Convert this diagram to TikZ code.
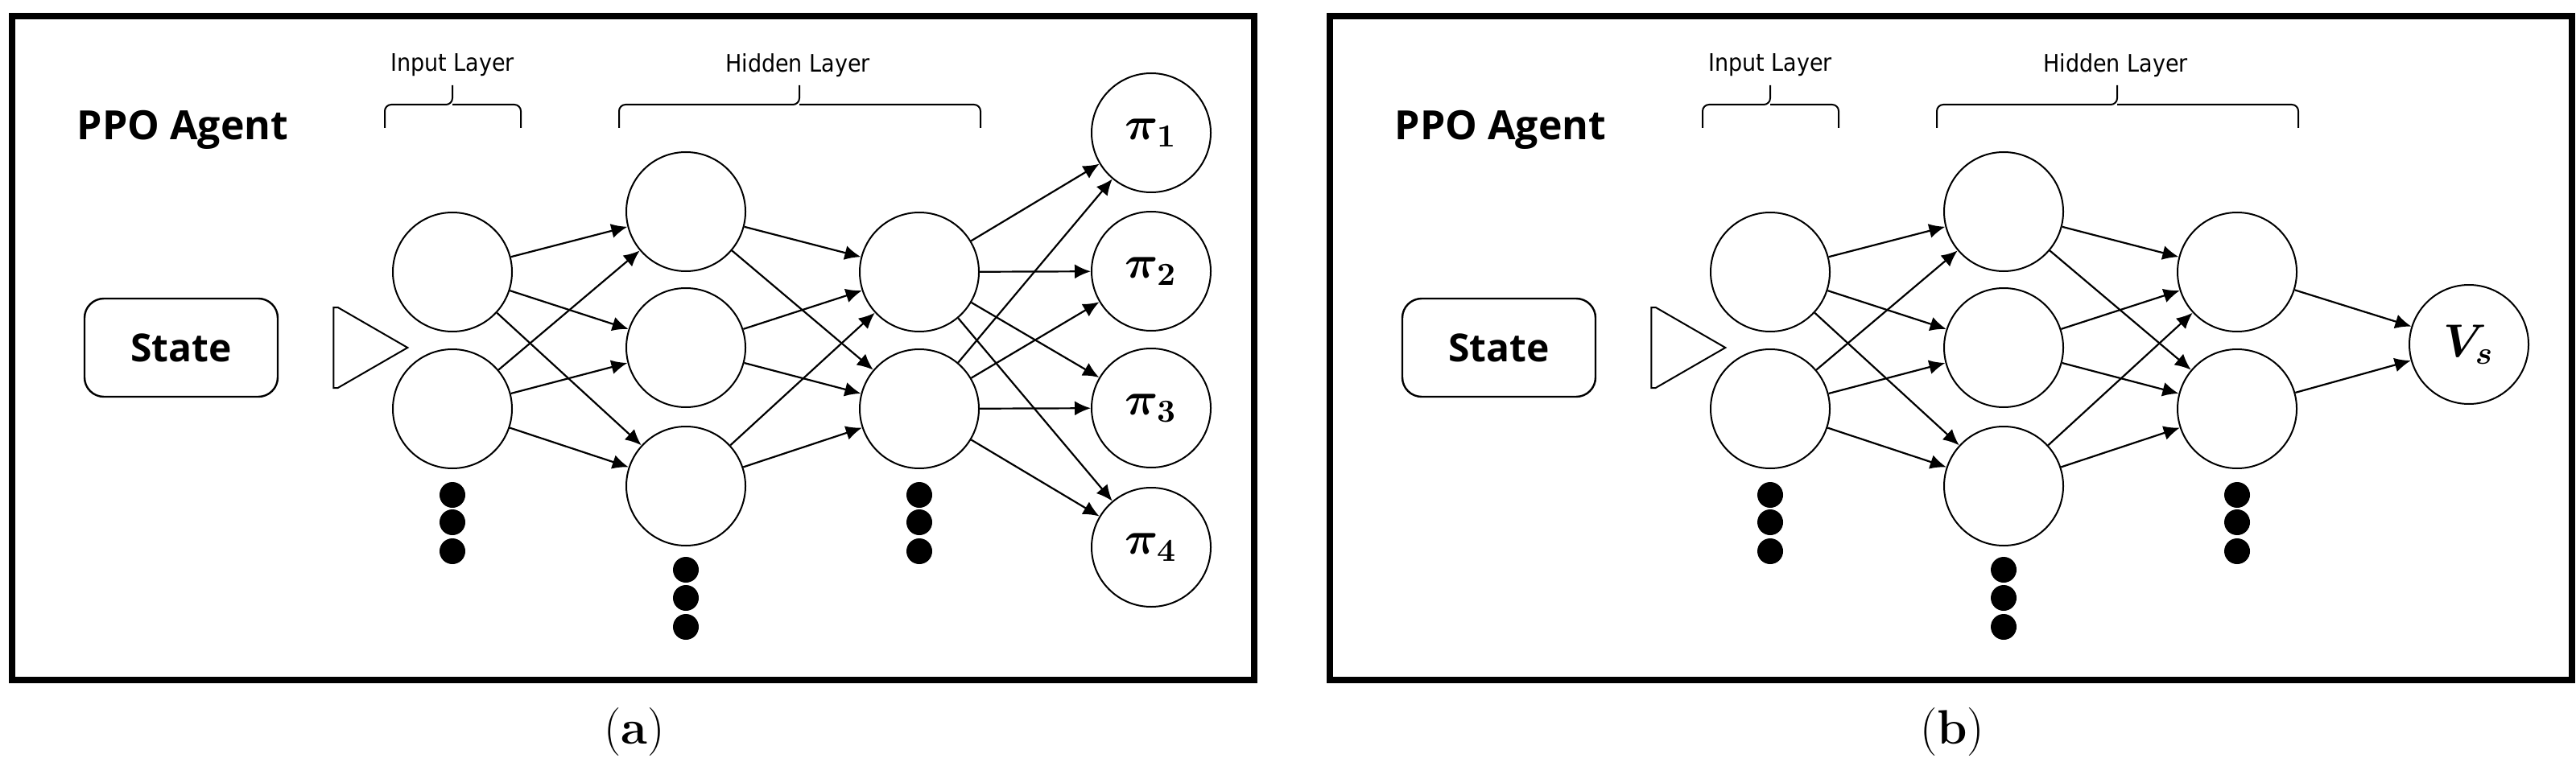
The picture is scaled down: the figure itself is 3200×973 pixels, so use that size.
\documentclass[tikz,border=0pt]{standalone}
\usepackage{fontspec}
\usepackage{amsmath,bm}
\newfontfamily\sansf{Open Sans}
\newfontfamily\sanscond{DejaVu Sans Condensed}
\usetikzlibrary{arrows.meta,shapes.arrows}
\begin{document}
\begin{tikzpicture}[x=0.25pt,y=-0.25pt,
  neuron/.style={circle,draw,line width=0.5pt,minimum size=37pt,inner sep=0pt},
  dot/.style={circle,fill=black,minimum size=8pt,inner sep=0pt},
  conn/.style={line width=0.55pt,-{Latex[length=5pt,width=4.5pt]}},
  frame/.style={draw,line width=2pt},
  brace/.style={line width=0.5pt,rounded corners=2pt},
  lbl/.style={font=\sanscond\fontsize{7.5}{9}\selectfont},
  ppo/.style={font=\sansf\bfseries\fontsize{12.5}{14}\selectfont},
  figcap/.style={font=\fontsize{15}{17}\selectfont}]
\useasboundingbox (0,0) rectangle (3200,973);
% ---------- panel (a)
\draw[frame] (15,20) rectangle (1558,845);
\node[ppo] (ppoA) at (227,161) {PPO Agent};
\node[lbl] (inA) at (562,81) {Input Layer};
\node[lbl] (hidA) at (991,81) {Hidden Layer};
\draw[brace] (478,159) -- (478,130) -- (562,130) -- (562,106) (562,130) -- (647,130) -- (647,159);
\draw[brace] (769,159) -- (769,130) -- (993,130) -- (993,106) (993,130) -- (1218,130) -- (1218,159);
\node[draw,rounded corners=6pt,line width=0.6pt,minimum width=60pt,minimum height=30.5pt,font=\sansf\bfseries\fontsize{12}{14}\selectfont] (stA) at (225,432) {State};
\node[single arrow,draw,line width=0.5pt,minimum height=23pt,minimum width=25pt,single arrow head extend=0pt,inner sep=0pt,single arrow tip angle=60] (arA) at (417,432) {};
\foreach \i/\y in {1/338,2/508} \node[neuron] (iA\i) at (562,\y) {};
\foreach \i/\y in {1/263,2/432,3/604} \node[neuron] (hA\i) at (852,\y) {};
\foreach \i/\y in {1/338,2/508} \node[neuron] (gA\i) at (1142,\y) {};
\foreach \i/\y in {1/165,2/337,3/507,4/680} \node[neuron] (oA\i) at (1430,\y) {\Large$\bm{\pi_{\i}}$};
\foreach \i/\y in {1/615,2/649,3/685} {\node[dot] (diA\i) at (562,\y) {}; \node[dot] (dgA\i) at (1142,\y) {};}
\foreach \i/\y in {1/708,2/743,3/779} \node[dot] (dhA\i) at (852,\y) {};
\foreach \a in {1,2} \foreach \b in {1,2,3} \draw[conn] (iA\a) -- (hA\b);
\foreach \a in {1,2,3} \foreach \b in {1,2} \draw[conn] (hA\a) -- (gA\b);
\foreach \a in {1,2} \foreach \b in {1,2,3,4} \draw[conn] (gA\a) -- (oA\b);
\node[figcap] (capA) at (788,910) {(\textbf{a})};
% ---------- panel (b)
\begin{scope}[xshift=409.25pt]
\draw[frame] (15,20) rectangle (1558,845);
\node[ppo] (ppoB) at (227,161) {PPO Agent};
\node[lbl] (inB) at (562,81) {Input Layer};
\node[lbl] (hidB) at (991,81) {Hidden Layer};
\draw[brace] (478,159) -- (478,130) -- (562,130) -- (562,106) (562,130) -- (647,130) -- (647,159);
\draw[brace] (769,159) -- (769,130) -- (993,130) -- (993,106) (993,130) -- (1218,130) -- (1218,159);
\node[draw,rounded corners=6pt,line width=0.6pt,minimum width=60pt,minimum height=30.5pt,font=\sansf\bfseries\fontsize{12}{14}\selectfont] (stB) at (225,432) {State};
\node[single arrow,draw,line width=0.5pt,minimum height=23pt,minimum width=25pt,single arrow head extend=0pt,inner sep=0pt,single arrow tip angle=60] (arB) at (417,432) {};
\foreach \i/\y in {1/338,2/508} \node[neuron] (iB\i) at (562,\y) {};
\foreach \i/\y in {1/263,2/432,3/604} \node[neuron] (hB\i) at (852,\y) {};
\foreach \i/\y in {1/338,2/508} \node[neuron] (gB\i) at (1142,\y) {};
\node[neuron] (vB) at (1430,428) {\Large$\bm{V_s}$};
\foreach \i/\y in {1/615,2/649,3/685} {\node[dot] (diB\i) at (562,\y) {}; \node[dot] (dgB\i) at (1142,\y) {};}
\foreach \i/\y in {1/708,2/743,3/779} \node[dot] (dhB\i) at (852,\y) {};
\foreach \a in {1,2} \foreach \b in {1,2,3} \draw[conn] (iB\a) -- (hB\b);
\foreach \a in {1,2,3} \foreach \b in {1,2} \draw[conn] (hB\a) -- (gB\b);
\foreach \a in {1,2} \draw[conn] (gB\a) -- (vB);
\node[figcap] (capB) at (788,910) {(\textbf{b})};
\end{scope}
\end{tikzpicture}
\end{document}
